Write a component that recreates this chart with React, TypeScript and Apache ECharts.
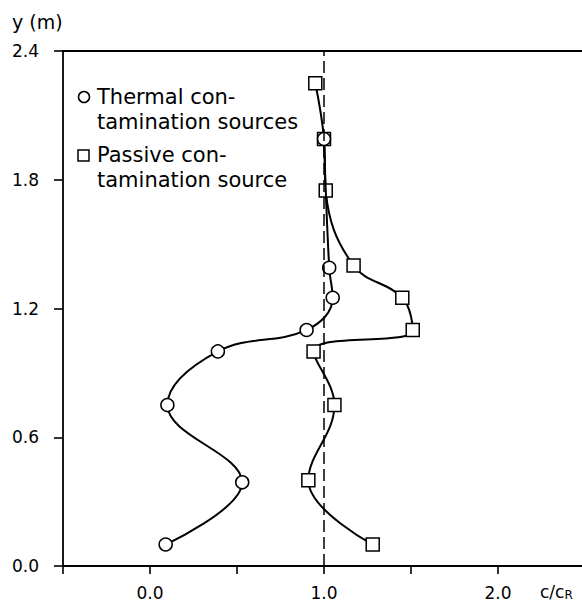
import React, { useEffect, useRef } from "react";
import * as echarts from "echarts";

// Thermal contamination sources (circles): c/cR and height y (m)
const thermalX = [0.09, 0.53, 0.1, 0.39, 0.9, 1.05, 1.03, 1.0];
const thermalY = [0.1, 0.39, 0.75, 1.0, 1.1, 1.25, 1.39, 1.99];

// Passive contamination source (squares)
const passiveX = [1.28, 0.91, 1.06, 0.94, 1.51, 1.45, 1.17, 1.01, 1.0, 0.95];
const passiveY = [0.1, 0.4, 0.75, 1.0, 1.1, 1.25, 1.4, 1.75, 1.99, 2.25];

const xLabels = [0.0, 1.0, 2.0];
const yTicks = [0.0, 0.6, 1.2, 1.8, 2.4];

const FONT = "DejaVu Sans";
const INK = "#000";

export default function App() {
  const ref = useRef<HTMLDivElement>(null);

  useEffect(() => {
    if (!ref.current) return;
    document.body.style.overflow = "hidden";
    const chart = echarts.init(ref.current, null, { renderer: "svg" });

    const thermal = thermalX.map((x, i) => [x, thermalY[i]]);
    const passive = passiveX.map((x, i) => [x, passiveY[i]]);

    const option: any = {
      animation: false,
      backgroundColor: "#fff",
      grid: {
        left: 63,
        top: 51,
        width: 522,
        height: 515,
        show: false,
        containLabel: false,
      },
      xAxis: [
        {
          type: "value",
          min: -0.5,
          max: 2.5,
          interval: 0.5,
          position: "bottom",
          splitLine: { show: false },
          axisLine: { show: true, onZero: false, lineStyle: { color: INK, width: 1.8 } },
          axisTick: { show: true, inside: false, length: 8, lineStyle: { color: INK, width: 1.6 } },
          axisLabel: {
            margin: 18,
            color: INK,
            fontFamily: FONT,
            fontSize: 17,
            showMaxLabel: false,
            formatter: (v: number) =>
              xLabels.some((l) => Math.abs(l - v) < 1e-6) ? v.toFixed(1) : "",
          },
        },
        {
          type: "value",
          min: -0.5,
          max: 2.5,
          interval: 0.5,
          position: "top",
          splitLine: { show: false },
          axisLine: { show: true, onZero: false, lineStyle: { color: INK, width: 1.8 } },
          axisTick: { show: false },
          axisLabel: { show: false },
        },
      ],
      yAxis: {
        type: "value",
        min: 0,
        max: 2.4,
        interval: 0.6,
        splitLine: { show: false },
        axisLine: { show: true, onZero: false, lineStyle: { color: INK, width: 1.8 } },
        axisTick: { show: true, inside: false, length: 9, lineStyle: { color: INK, width: 1.6 } },
        axisLabel: {
          margin: 24,
          color: INK,
          fontFamily: FONT,
          fontSize: 17,
          formatter: (v: number) =>
            yTicks.some((t) => Math.abs(t - v) < 1e-6) ? v.toFixed(1) : "",
        },
      },
      series: [
        {
          type: "line",
          name: "Passive contamination source",
          data: passive,
          smooth: 0.4,
          symbol: "rect",
          symbolSize: 13,
          showAllSymbol: true,
          lineStyle: { color: INK, width: 2 },
          itemStyle: { color: "#fff", borderColor: INK, borderWidth: 1.5 },
          z: 3,
          markLine: {
            silent: true,
            symbol: "none",
            label: { show: false },
            lineStyle: { color: INK, width: 1.5, type: [12, 5] },
            data: [{ xAxis: 1.0 }],
          },
        },
        {
          type: "line",
          name: "Thermal contamination sources",
          data: thermal,
          smooth: 0.4,
          symbol: "circle",
          symbolSize: 13,
          showAllSymbol: true,
          lineStyle: { color: INK, width: 2 },
          itemStyle: { color: "#fff", borderColor: INK, borderWidth: 1.5 },
          z: 4,
        },
      ],
      graphic: [
        {
          type: "text",
          left: 12,
          top: 12,
          style: { text: "y (m)", fill: INK, font: `19px "${FONT}"` },
        },
        {
          type: "text",
          x: 540,
          y: 583,
          style: {
            text: "{a|c/c}{b|R}",
            fill: INK,
            rich: {
              a: { fontFamily: FONT, fontSize: 17, lineHeight: 18, fill: INK },
              b: { fontFamily: FONT, fontSize: 12, lineHeight: 13, fill: INK, padding: [5, 0, 0, 0] },
            },
          },
        },
        {
          type: "circle",
          shape: { cx: 84, cy: 97, r: 5.5 },
          style: { fill: "#fff", stroke: INK, lineWidth: 1.5 },
        },
        {
          type: "text",
          x: 97,
          y: 97,
          style: { text: "Thermal con-", fill: INK, font: `21px "${FONT}"`, verticalAlign: "middle" },
        },
        {
          type: "text",
          x: 97,
          y: 122,
          style: { text: "tamination sources", fill: INK, font: `21px "${FONT}"`, verticalAlign: "middle" },
        },
        {
          type: "rect",
          shape: { x: 78, y: 150, width: 11, height: 11 },
          style: { fill: "#fff", stroke: INK, lineWidth: 1.5 },
        },
        {
          type: "text",
          x: 97,
          y: 155,
          style: { text: "Passive con-", fill: INK, font: `21px "${FONT}"`, verticalAlign: "middle" },
        },
        {
          type: "text",
          x: 97,
          y: 180,
          style: { text: "tamination source", fill: INK, font: `21px "${FONT}"`, verticalAlign: "middle" },
        },
      ],
    };

    chart.setOption(option);
    return () => chart.dispose();
  }, []);

  return (
    <div
      ref={ref}
      style={{ position: "fixed", left: 0, top: 0, width: 620, height: 603, background: "#fff" }}
    />
  );
}
